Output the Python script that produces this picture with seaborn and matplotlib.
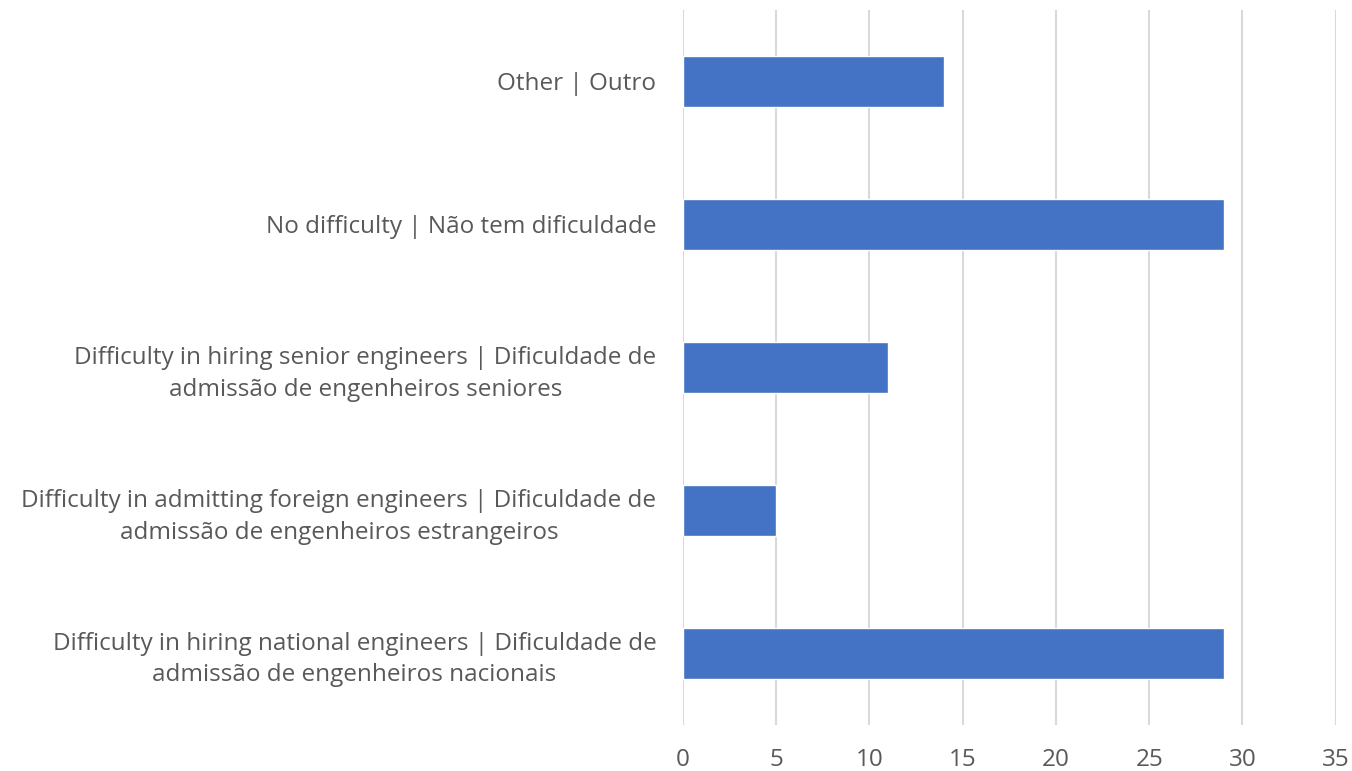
import matplotlib
matplotlib.use("Agg")
import matplotlib.pyplot as plt
import seaborn as sns
import pandas as pd

# data
categories = [
    "Other | Outro",
    "No difficulty | Não tem dificuldade",
    "Difficulty in hiring senior engineers | Dificuldade de\nadmissão de engenheiros seniores",
    "Difficulty in admitting foreign engineers | Dificuldade de\nadmissão de engenheiros estrangeiros",
    "Difficulty in hiring national engineers | Dificuldade de\nadmissão de engenheiros nacionais",
]
counts = [14, 29, 11, 5, 29]
xticks = [0, 5, 10, 15, 20, 25, 30, 35]

df = pd.DataFrame({"cat": categories, "n": counts})

sns.set_style("white")
plt.rcParams['font.family'] = ['Open Sans', 'DejaVu Sans']
txt = '#595959'

fig = plt.figure(figsize=(13.52, 7.71), dpi=100)
ax = fig.add_axes([0.505, 0.060, 0.483, 0.927])

sns.barplot(data=df, x="n", y="cat", orient="h", color="#4472C4", width=0.36,
            saturation=1, ax=ax, zorder=3)

ax.set_xlim(0, 35)
ax.set_xticks(xticks)
ax.grid(axis='x', color='#D9D9D9', linewidth=1.5, zorder=0)
ax.set_axisbelow(True)
for s in ax.spines.values():
    s.set_visible(False)
ax.set_xlabel("")
ax.set_ylabel("")
ax.tick_params(axis='both', length=0, colors=txt, labelsize=17.5)
ax.tick_params(axis='x', pad=17)
ax.tick_params(axis='y', pad=19)
for lab in ax.get_yticklabels():
    lab.set_horizontalalignment('right')
    lab.set_multialignment('center')
    lab.set_linespacing(1.4)

fig.savefig("out.png", dpi=100)
